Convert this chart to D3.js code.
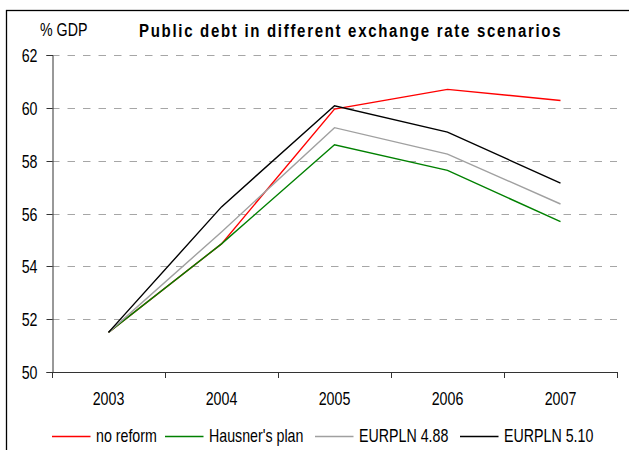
<!DOCTYPE html>
<html>
<head>
<meta charset="utf-8">
<script src="https://cdn.jsdelivr.net/npm/d3@7/dist/d3.min.js"></script>
<style>
  html, body { margin: 0; padding: 0; background: #fff; }
  svg { display: block; }
  text { font-family: "Liberation Sans", Arial, sans-serif; fill: #000; }
</style>
</head>
<body>
<svg id="chart" width="629" height="450"></svg>
<script>
// Public debt (% of GDP) under four exchange-rate scenarios
const years = ["2003", "2004", "2005", "2006", "2007"];
const noReform   = [51.5, 54.85, 59.95, 60.7, 60.28];
const hausner    = [51.5, 54.85, 58.6, 57.63, 55.69];
const eurpln488  = [51.5, 55.3, 59.25, 58.25, 56.36];
const eurpln510  = [51.5, 56.25, 60.08, 59.08, 57.15];
const yTicks = [50, 52, 54, 56, 58, 60, 62];

const series = [
  { name: "no reform",       values: noReform,  color: "#ff0000" },
  { name: "Hausner's plan",  values: hausner,   color: "#008000" },
  { name: "EURPLN 4.88",     values: eurpln488, color: "#a0a0a0" },
  { name: "EURPLN 5.10",     values: eurpln510, color: "#000000" }
];

// narrow, tall lettering
const FS = 18, SX = 0.79;

const svg = d3.select("#chart");
const plotLeft = 52, plotRight = 617, plotTop = 55, plotBottom = 372;

// outer frame
svg.append("rect")
  .attr("x", 6.5).attr("y", 10.5)
  .attr("width", 700).attr("height", 500)
  .attr("fill", "none").attr("stroke", "#000").attr("stroke-width", 1.3);

const x = d3.scaleBand().domain(years).range([plotLeft, plotRight]);
const y = d3.scaleLinear().domain([50, 62]).range([plotBottom, plotTop]);
const py = v => Math.round(y(v)) + 0.5;

// dashed horizontal gridlines
svg.append("g").selectAll("line")
  .data(yTicks.filter(v => v > 50))
  .join("line")
  .attr("x1", plotLeft).attr("x2", plotRight)
  .attr("y1", py).attr("y2", py)
  .attr("stroke", "#a6a6a6").attr("stroke-width", 1)
  .attr("stroke-dasharray", "7.5,8");

// y axis
const yAxis = svg.append("g")
  .attr("transform", `translate(${plotLeft + 0.5},0)`)
  .call(d3.axisLeft(y).tickValues(yTicks).tickSize(6).tickPadding(9).tickFormat(d3.format("d")));
yAxis.attr("font-family", null).attr("font-size", null);
yAxis.select(".domain").attr("stroke", "#333");
yAxis.selectAll(".tick line").attr("stroke", "#333");
yAxis.selectAll(".tick").attr("transform", d => `translate(0,${py(d)})`);
yAxis.selectAll(".tick text")
  .attr("font-size", FS)
  .attr("x", -15 / SX)
  .attr("dy", "0.36em")
  .attr("transform", `scale(${SX},1)`);

// x axis: baseline with ticks at category boundaries, labels centred in categories
const xg = svg.append("g");
xg.append("line")
  .attr("x1", plotLeft).attr("x2", plotRight + 0.5)
  .attr("y1", plotBottom + 0.5).attr("y2", plotBottom + 0.5)
  .attr("stroke", "#333");
const bounds = years.map(d => x(d)).concat([x(years[years.length - 1]) + x.step()]);
xg.selectAll("line.tk").data(bounds).join("line").attr("class", "tk")
  .attr("x1", d => Math.round(d) + 0.5).attr("x2", d => Math.round(d) + 0.5)
  .attr("y1", plotBottom).attr("y2", plotBottom + 6)
  .attr("stroke", "#333");
const xAxis = svg.append("g")
  .attr("transform", `translate(0,${plotBottom})`)
  .call(d3.axisBottom(x).tickSize(0));
xAxis.attr("font-family", null).attr("font-size", null);
xAxis.select(".domain").remove();
xAxis.selectAll(".tick text")
  .attr("font-size", FS)
  .attr("y", 33).attr("dy", 0)
  .attr("transform", `scale(${SX},1)`);

// series lines
const line = d3.line()
  .x((d, i) => x(years[i]) + x.bandwidth() / 2)
  .y(d => y(d));
svg.append("g").selectAll("path")
  .data(series)
  .join("path")
  .attr("d", s => line(s.values))
  .attr("fill", "none")
  .attr("stroke", s => s.color)
  .attr("stroke-width", 1.4);

// title and unit
svg.append("text")
  .attr("transform", `translate(40,36) scale(${SX},1)`)
  .attr("font-size", FS)
  .text("% GDP");
svg.append("text")
  .attr("transform", `translate(139,37) scale(${SX},1)`)
  .attr("font-size", 19).attr("font-weight", "bold")
  .attr("letter-spacing", 2.15)
  .text("Public debt in different exchange rate scenarios");

// legend
const legendX = [52, 165, 315, 460];
const lg = svg.append("g").selectAll("g").data(series).join("g")
  .attr("transform", (d, i) => `translate(${legendX[i]},436)`);
lg.append("line")
  .attr("x1", 0).attr("x2", 38.5).attr("y1", 0.5).attr("y2", 0.5)
  .attr("stroke", d => d.color).attr("stroke-width", 1.4);
lg.append("text")
  .attr("transform", `translate(44,6) scale(${SX},1)`)
  .attr("font-size", FS)
  .text(d => d.name);
</script>
</body>
</html>
